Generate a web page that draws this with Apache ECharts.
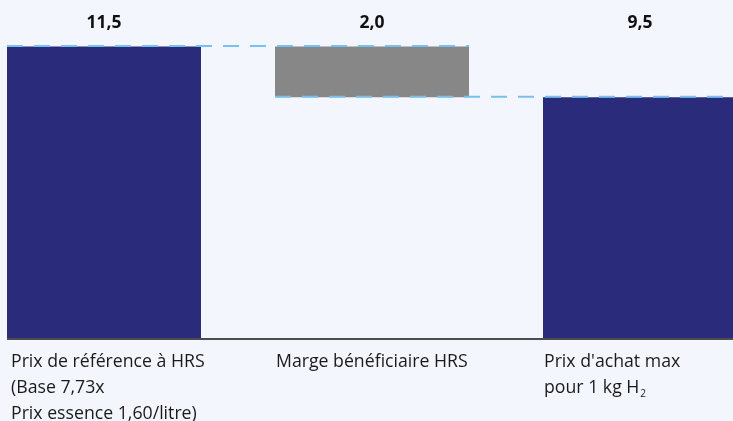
<!DOCTYPE html>
<html>
<head>
<meta charset="utf-8">
<script src="https://cdn.jsdelivr.net/npm/echarts@6/dist/echarts.min.js"></script>
<style>
html,body{margin:0;padding:0;background:#f3f7fd;overflow:hidden;width:733px;height:421px;}
#wrap{position:relative;width:733px;height:421px;overflow:hidden;}
#chart{position:absolute;left:-30px;top:0;width:804px;height:421px;}
</style>
</head>
<body>
<div id="wrap"><div id="chart"></div></div>
<script>
// ---- data ----
const categories = [
  "Prix de référence à HRS\n(Base 7,73x\nPrix essence 1,60/litre)",
  "Marge bénéficiaire HRS",
  "Prix d'achat max\npour 1 kg H{sub|2}"
];
const baseValues = [0, 9.5, 0];
const barValues = [11.5, 2.0, 9.5];
const valueLabels = ["11,5", "2,0", "9,5"];
const barKinds = ["total", "decrease", "total"];

// ---- style ----
const NAVY = "#2b2b7b";
const GREY = "#878787";
const DASH = "#78c0ee";
const FONT = "Open Sans";
const BAR_W = 194;
const OFFSET_X = 30;     // chart canvas shifted left by this much
const VISIBLE_W = 733;

const chart = echarts.init(document.getElementById("chart"), null, {renderer: "canvas"});
chart.setOption({
  backgroundColor: "#f3f7fd",
  animation: false,
  grid: {left: 0, right: 0, top: 46.5, bottom: 83},
  xAxis: {
    type: "category",
    data: categories,
    axisLine: {show: false},
    axisTick: {show: false},
    axisLabel: {show: false}
  },
  yAxis: {
    type: "value", min: 0, max: 11.5, show: false,
    splitLine: {show: false}
  },
  series: [
    {
      type: "bar", stack: "w", barWidth: BAR_W,
      data: baseValues,
      itemStyle: {color: "transparent"},
      silent: true
    },
    {
      type: "bar", stack: "w", barWidth: BAR_W,
      data: barValues.map((v, i) => ({
        value: v,
        itemStyle: {color: barKinds[i] === "total" ? NAVY : GREY}
      }))
    }
  ]
});

// ---- overlays computed from the scales ----
const W = OFFSET_X + VISIBLE_W;
const cx = categories.map((c, i) => chart.convertToPixel({xAxisIndex: 0}, i));
const yOf = v => chart.convertToPixel({yAxisIndex: 0}, v);
const y0 = yOf(0);
const g = [];

// baseline
g.push({type: "line", z: 10,
  shape: {x1: cx[0] - BAR_W / 2, y1: y0 + 1, x2: W, y2: y0 + 1},
  style: {stroke: "#4d4d4d", lineWidth: 2}});

// connector dashed lines: level where the waterfall continues after bar i
for (let i = 0; i < categories.length - 1; i++) {
  const level = barKinds[i] === "decrease" ? baseValues[i] : baseValues[i] + barValues[i];
  const endIdx = i + 1;
  const xEnd = endIdx === categories.length - 1 ? W : cx[endIdx] + BAR_W / 2;
  g.push({type: "line", z: 20,
    shape: {x1: cx[i] - BAR_W / 2, y1: yOf(level) - 0.5, x2: xEnd, y2: yOf(level) - 0.5},
    style: {stroke: DASH, lineWidth: 2, lineDash: [16, 11]}});
}

// value labels at top
valueLabels.forEach((t, i) => {
  g.push({type: "text", z: 30, x: cx[i], y: 23,
    style: {text: t, font: "bold 17.5px '" + FONT + "'", fill: "#111111",
      align: "center", verticalAlign: "middle"}});
});

// category labels
categories.forEach((t, i) => {
  g.push({type: "text", z: 30,
    x: cx[i] - BAR_W / 2 + (i === 0 ? 4 : 1), y: y0 + 11,
    style: {text: t, fontFamily: FONT, fontSize: 17.7, lineHeight: 26,
      fill: "#1a1a1a", align: "left", verticalAlign: "top",
      rich: {sub: {fontFamily: FONT, fontSize: 10, lineHeight: 26, padding: [12, 0, 0, 1], fill: "#1a1a1a"}}}});
});

chart.setOption({graphic: g});
</script>
</body>
</html>
